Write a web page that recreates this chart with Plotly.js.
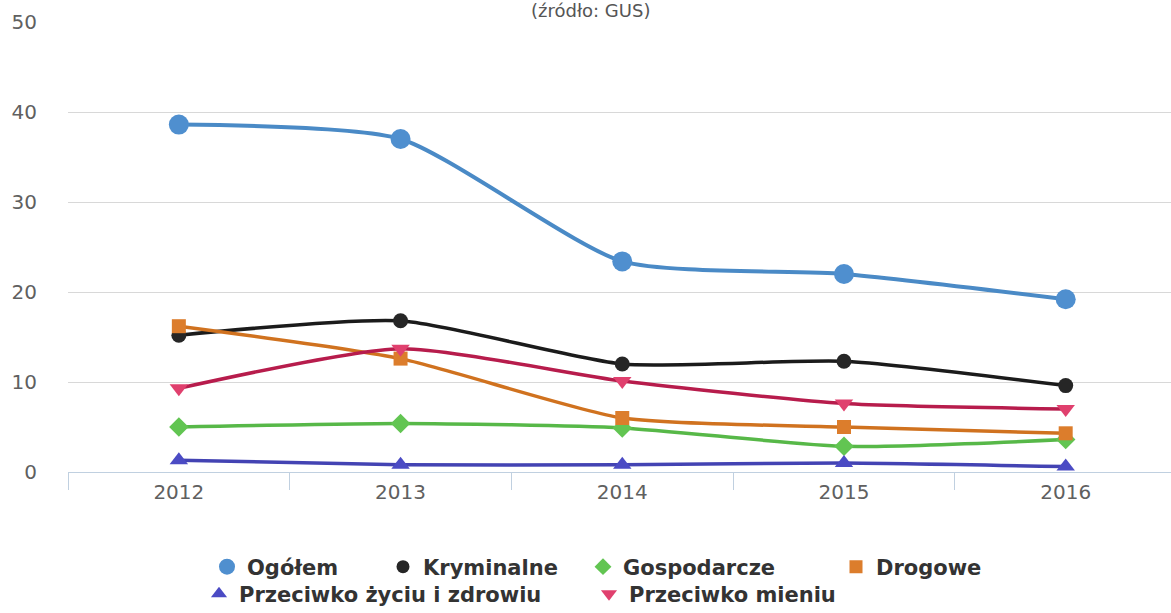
<!DOCTYPE html>
<html>
<head>
<meta charset="utf-8">
<script src="https://cdn.plot.ly/plotly-3.0.1.min.js"></script>
<style>html,body{margin:0;padding:0;background:#fff;}#chart{width:1171px;height:613px;}</style>
</head>
<body>
<div id="chart"></div>
<script>
const years = ["2012", "2013", "2014", "2015", "2016"];
const ogolem = [38.6, 37.0, 23.4, 22.0, 19.2];
const kryminalne = [15.2, 16.8, 12.0, 12.3, 9.6];
const gospodarcze = [5.0, 5.4, 4.9, 2.85, 3.6];
const drogowe = [16.2, 12.6, 6.0, 5.0, 4.3];
const zycie = [1.3, 0.8, 0.8, 1.0, 0.6];
const mienie = [9.3, 13.7, 10.1, 7.6, 7.0];
const yTicks = [0, 10, 20, 30, 40, 50];
const subtitle = "(źródło: GUS)";

const W = 1171, H = 613;
const PL = 68, PT = 22, PW = 1103, PH = 450;
function lx(px){ return px / W; }
function ly(py){ return 1 - py / H; }

const defs = [
  {name: 'Ogółem', y: ogolem, line: '#4a8ac6', width: 4, symbol: 'circle', size: 20, fill: '#4f8fcf', lsize: 16, legend: 'legend'},
  {name: 'Kryminalne', y: kryminalne, line: '#1b1b1b', width: 3.5, symbol: 'circle', size: 15, fill: '#262626', lsize: 13, legend: 'legend2'},
  {name: 'Gospodarcze', y: gospodarcze, line: '#57b848', width: 3.5, symbol: 'diamond', size: 15, fill: '#62c552', lsize: 13, legend: 'legend3'},
  {name: 'Drogowe', y: drogowe, line: '#d0721f', width: 3.5, symbol: 'square', size: 14, fill: '#dc7d2c', lsize: 13, legend: 'legend4'},
  {name: 'Przeciwko życiu i zdrowiu', y: zycie, line: '#4343b3', width: 3.5, symbol: 'triangle-up', size: 16, fill: '#4b4bc4', lsize: 14, legend: 'legend5'},
  {name: 'Przeciwko mieniu', y: mienie, line: '#b71c4c', width: 3.5, symbol: 'triangle-down', size: 16, fill: '#e0406e', lsize: 14, legend: 'legend6'}
];

const data = [];
defs.forEach(d => {
  data.push({
    type: 'scatter', mode: 'lines+markers', name: d.name, x: years, y: d.y,
    line: {color: d.line, width: d.width, shape: 'spline', smoothing: 0.6},
    marker: {symbol: d.symbol, size: d.size, color: d.fill, line: {width: 0}},
    cliponaxis: false, showlegend: false
  });
});
defs.forEach(d => {
  data.push({
    type: 'scatter', mode: 'markers', name: d.name, x: [null], y: [null],
    marker: {symbol: d.symbol, size: d.lsize, color: d.fill, line: {width: 0}},
    showlegend: true, legend: d.legend
  });
});

const legFont = {family: 'DejaVu Sans', size: 21, color: '#333333', weight: 'bold'};
function leg(px, py){
  return {xref: 'container', yref: 'container', x: lx(px), y: ly(py),
          xanchor: 'left', yanchor: 'middle', orientation: 'h',
          font: legFont, bgcolor: 'rgba(0,0,0,0)', borderwidth: 0,
          itemwidth: 30, itemclick: false, itemdoubleclick: false};
}

const layout = {
  width: W, height: H,
  margin: {l: PL, r: 0, t: PT, b: H - PT - PH},
  paper_bgcolor: '#ffffff', plot_bgcolor: '#ffffff',
  font: {family: 'DejaVu Sans', color: '#666666'},
  showlegend: true,
  xaxis: {
    type: 'category', range: [-0.5, 4.475],
    tickson: 'boundaries', ticks: 'outside', ticklen: 17, tickcolor: '#c0d0e0', tickwidth: 1,
    showline: true, linecolor: '#c0d0e0', linewidth: 1,
    showgrid: false, zeroline: false, ticklabelstandoff: 2,
    tickfont: {family: 'DejaVu Sans', size: 20, color: '#606060'},
    fixedrange: true
  },
  yaxis: {
    range: [0, 50], tickvals: yTicks, ticktext: yTicks.map(String),
    showgrid: true, gridcolor: '#d8d8d8', gridwidth: 1,
    zeroline: false, showline: false, ticks: '',
    ticklabelstandoff: 30,
    tickfont: {family: 'DejaVu Sans', size: 20, color: '#606060'},
    fixedrange: true
  },
  legend: leg(207, 567),
  legend2: leg(383, 567),
  legend3: leg(583, 567),
  legend4: leg(836, 567),
  legend5: leg(199, 594),
  legend6: leg(589, 594),
  annotations: [{
    text: subtitle, xref: 'paper', yref: 'paper',
    x: (590 - PL) / PW, y: (PT + PH - 10) / PH,
    xanchor: 'center', yanchor: 'middle', showarrow: false,
    font: {family: 'DejaVu Sans', size: 18, color: '#555555'}
  }]
};

Plotly.newPlot('chart', data, layout, {displayModeBar: false, staticPlot: true});
</script>
</body>
</html>
